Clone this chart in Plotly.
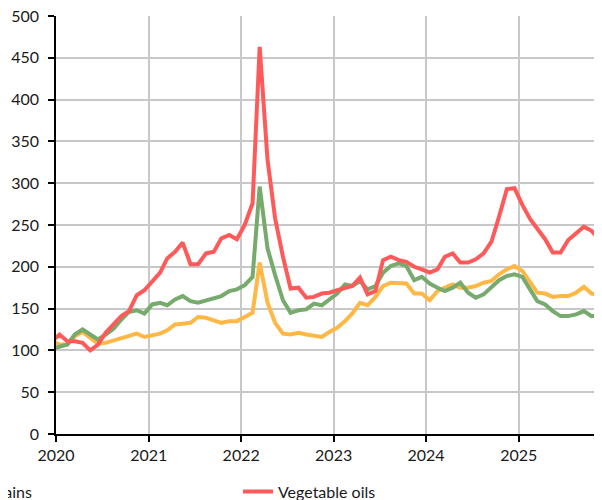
import pandas as pd
import plotly.graph_objs as go

# monthly index values, mid-month, Dec 2019 .. Dec 2025
dates = pd.date_range('2019-12-01', '2025-12-01', freq='MS') + pd.Timedelta(days=14)

food = [112,
        107, 107, 117, 122, 115, 108, 109, 112, 114, 117, 120, 116,
        118, 120, 124, 131, 132, 133, 140, 139, 136, 133, 135, 135,
        140, 145, 205, 157, 133, 120, 119, 121, 119, 117, 116, 122,
        127, 135, 144, 157, 154, 164, 177, 181, 181, 180, 168, 168,
        160, 171, 175, 179, 175, 175, 177, 181, 183, 191, 197, 201,
        195, 181, 169, 168, 164, 165, 165, 169, 176, 168, 167, 165]

grains = [102,
          104, 107, 119, 125, 119, 113, 119, 126, 137, 146, 148, 144,
          155, 157, 154, 161, 165, 159, 157, 160, 162, 165, 171, 173,
          178, 188, 296, 222, 190, 160, 145, 148, 149, 156, 154, 161,
          168, 179, 177, 183, 173, 177, 193, 201, 204, 201, 184, 188,
          180, 175, 171, 175, 181, 169, 163, 167, 175, 184, 189, 191,
          188, 173, 159, 155, 147, 141, 141, 143, 147, 141, 142, 142]

veg_oils = [111,
            119, 111, 111, 109, 100, 107, 121, 131, 141, 147, 166, 172,
            182, 193, 210, 218, 229, 203, 203, 216, 218, 234, 238, 233,
            250, 276, 463, 328, 258, 212, 174, 175, 163, 164, 168, 169,
            172, 175, 177, 187, 167, 171, 208, 212, 208, 206, 200, 197,
            193, 197, 212, 216, 205, 205, 209, 216, 230, 260, 293, 294,
            274, 257, 245, 233, 217, 217, 232, 240, 248, 243, 233, 227]

names = ['Food', 'Grains', 'Vegetable oils']
colors = ['#FFB845', '#77AA6D', '#FF5A5A']
in_legend = [False, True, True]  # first entry sits outside the cropped view

fig = go.Figure()
for name, ys, col, leg in zip(names, [food, grains, veg_oils], colors, in_legend):
    fig.add_trace(go.Scatter(x=dates, y=ys, mode='lines', name=name, showlegend=leg,
                             line=dict(color=col, width=4)))

# page body adds 8px, so the figure is shifted; plot runs past the right edge
fig.update_layout(
    width=602, height=500,
    margin=dict(l=48, r=0, t=8, b=74, autoexpand=False),
    paper_bgcolor='white', plot_bgcolor='white',
    font=dict(family='Lato', size=16, color='#1a1a1a'),
    legend=dict(orientation='h', x=-0.1968, xanchor='left', y=-0.097, yanchor='top',
                entrywidth=246, entrywidthmode='pixels', font=dict(size=16)),
)
fig.update_xaxes(range=['2020-01-01', '2025-12-27'], dtick='M12', tickformat='%Y',
                 showgrid=True, gridcolor='#c8c8c8', gridwidth=1.5,
                 showline=True, linecolor='black', linewidth=1.5,
                 ticks='outside', ticklen=6, tickcolor='black', tickwidth=1.5,
                 ticklabeloverflow='allow')
fig.update_yaxes(range=[0, 500], dtick=50,
                 showgrid=True, gridcolor='#c8c8c8', gridwidth=1.5,
                 showline=True, linecolor='black', linewidth=1.5,
                 ticks='outside', ticklen=6, tickcolor='black', tickwidth=1.5,
                 ticklabelstandoff=6, zeroline=False, ticklabeloverflow='allow')

fig.write_html("out.html")
